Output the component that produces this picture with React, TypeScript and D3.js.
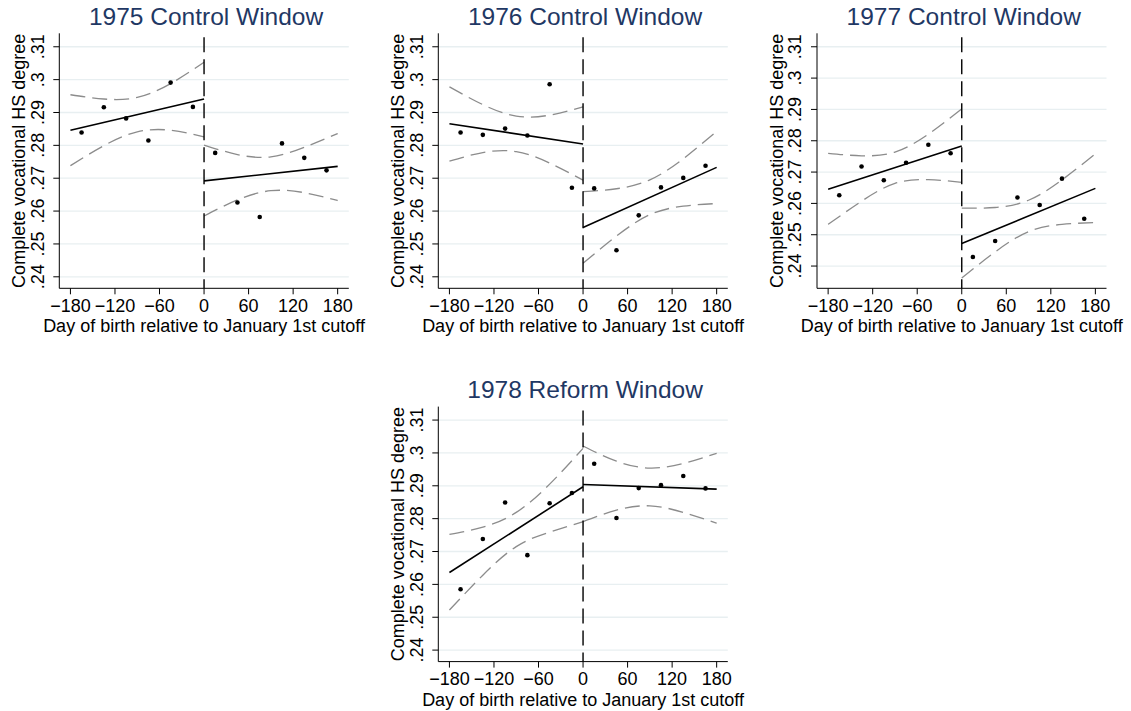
import React from 'react';
import * as d3 from 'd3';

const width = 1131,
      height = 711;

// bin centres (days) and x ticks
const binCenters = [-165, -135, -105, -75, -45, -15, 15, 45, 75, 105, 135, 165];
const xTicks = [-180, -120, -60, 0, 60, 120, 180];
const yTicks = [0.24, 0.25, 0.26, 0.27, 0.28, 0.29, 0.3, 0.31];
const yTickLabels = ['.24', '.25', '.26', '.27', '.28', '.29', '.3', '.31'];

const ciXLeft = [-180, -135, -90, -45, 0];
const ciXRight = [0, 45, 90, 135, 180];

const titles = ['1975 Control Window', '1976 Control Window', '1977 Control Window', '1978 Reform Window'];

// binned means
const dots1975 = [0.2839, 0.2916, 0.2882, 0.2815, 0.2991, 0.2917, 0.2777, 0.2626, 0.2582, 0.2806, 0.2762, 0.2724];
const dots1976 = [0.2839, 0.2832, 0.2851, 0.283, 0.2986, 0.2671, 0.2669, 0.2481, 0.2587, 0.2672, 0.2701, 0.2738];
const dots1977 = [0.2626, 0.2718, 0.2674, 0.273, 0.2787, 0.276, 0.2429, 0.248, 0.2619, 0.2595, 0.2679, 0.2551];
const dots1978 = [0.2585, 0.2738, 0.2849, 0.2689, 0.2847, 0.2878, 0.2967, 0.2802, 0.2893, 0.2902, 0.293, 0.2892];

// linear fit at the ends of each side [at -180, at 0] / [at 0, at 180]
const fitLeft = [[0.2846, 0.2941], [0.2866, 0.2804], [0.2645, 0.2783], [0.2636, 0.2897]];
const fitRight = [[0.2692, 0.2736], [0.255, 0.2733], [0.2472, 0.2648], [0.2904, 0.289]];

// 95% CI bands
const upperLeft = [
  [0.2954, 0.2941, 0.2946, 0.2988, 0.3053],
  [0.2978, 0.2924, 0.2889, 0.2892, 0.2917],
  [0.276, 0.2752, 0.2764, 0.2821, 0.2902],
  [0.2752, 0.2774, 0.2819, 0.2905, 0.3014],
];
const lowerLeft = [
  [0.2738, 0.2799, 0.2841, 0.2846, 0.2826],
  [0.2752, 0.2778, 0.2781, 0.2746, 0.2694],
  [0.2533, 0.2607, 0.2664, 0.2676, 0.2667],
  [0.2522, 0.2628, 0.2715, 0.2759, 0.2791],
];
const upperRight = [
  [0.2801, 0.2772, 0.2765, 0.2794, 0.2836],
  [0.2659, 0.2668, 0.2695, 0.2759, 0.2843],
  [0.2585, 0.2587, 0.261, 0.2675, 0.2758],
  [0.3021, 0.2975, 0.2954, 0.2968, 0.2999],
];
const lowerRight = [
  [0.2585, 0.2634, 0.2662, 0.2656, 0.2632],
  [0.2441, 0.2524, 0.2589, 0.2615, 0.2623],
  [0.2362, 0.2445, 0.251, 0.2533, 0.2539],
  [0.2791, 0.2826, 0.2839, 0.2819, 0.2786],
];

const yDomains = [[0.2365, 0.3141], [0.2365, 0.3141], [0.2329, 0.3143], [0.2365, 0.3141]];
const panelOrigins = [[0, 0], [379, 0], [757.7, 0], [379, 373.3]];
const allDots = [dots1975, dots1976, dots1977, dots1978];

const font = '"Liberation Sans", Arial, Helvetica, sans-serif';
const navy = '#1f3864';
const gridColor = '#e8eff1';
const ciColor = '#8c8c8c';

const plotLeft = 59.3,
      plotRight = 348.8,
      plotTop = 33.3,
      plotBottom = 288.3;

const minus = (v: number) => (v < 0 ? '\u2212' + Math.abs(v) : String(v));

const Panel = ({ i }: { i: number }) => {
  const [ox, oy] = panelOrigins[i];
  const x = d3.scaleLinear().domain([-195, 195]).range([plotLeft, plotRight]);
  const y = d3.scaleLinear().domain(yDomains[i]).range([plotBottom, plotTop]);

  const ciLine = d3.line<[number, number]>()
    .x(d => x(d[0]))
    .y(d => y(d[1]))
    .curve(d3.curveNatural);

  const bands = [
    ciXLeft.map((v, k) => [v, upperLeft[i][k]] as [number, number]),
    ciXLeft.map((v, k) => [v, lowerLeft[i][k]] as [number, number]),
    ciXRight.map((v, k) => [v, upperRight[i][k]] as [number, number]),
    ciXRight.map((v, k) => [v, lowerRight[i][k]] as [number, number]),
  ];

  const cx = (plotLeft + plotRight) / 2;
  const cy = (plotTop + plotBottom) / 2;

  return (
    <g transform={`translate(${ox},${oy})`}>
      <text x={cx + 2} y={25} textAnchor="middle" fontSize={24.5} fill={navy} fontFamily={font}>
        {titles[i]}
      </text>

      {yTicks.map((t, k) => (
        <g key={'gy' + k}>
          <line x1={plotLeft} x2={plotRight} y1={y(t)} y2={y(t)} stroke={gridColor} strokeWidth={1.3} />
          <line x1={plotLeft - 6} x2={plotLeft} y1={y(t)} y2={y(t)} stroke="#000" strokeWidth={1} />
          <text
            transform={`translate(${plotLeft - 15.8},${y(t)}) rotate(-90)`}
            textAnchor="middle"
            fontSize={18}
            fontFamily={font}
            fill="#000"
          >
            {yTickLabels[k]}
          </text>
        </g>
      ))}

      {bands.map((b, k) => (
        <path key={'ci' + k} d={ciLine(b) || ''} fill="none" stroke={ciColor} strokeWidth={1.3} strokeDasharray="15,7" />
      ))}

      <line x1={x(-180)} x2={x(0)} y1={y(fitLeft[i][0])} y2={y(fitLeft[i][1])} stroke="#000" strokeWidth={1.6} />
      <line x1={x(0)} x2={x(180)} y1={y(fitRight[i][0])} y2={y(fitRight[i][1])} stroke="#000" strokeWidth={1.6} />

      <line x1={x(0)} x2={x(0)} y1={plotTop + 4} y2={plotBottom} stroke="#000" strokeWidth={1.4} strokeDasharray="15,7" />

      {allDots[i].map((v, k) => (
        <circle key={'d' + k} cx={x(binCenters[k])} cy={y(v)} r={2.3} fill="#000" />
      ))}

      <line x1={plotLeft} x2={plotLeft} y1={plotTop} y2={plotBottom} stroke="#000" strokeWidth={1} />
      <line x1={plotLeft} x2={plotRight} y1={plotBottom} y2={plotBottom} stroke="#000" strokeWidth={1} />

      {xTicks.map(t => (
        <g key={'tx' + t}>
          <line x1={x(t)} x2={x(t)} y1={plotBottom} y2={plotBottom + 6} stroke="#000" strokeWidth={1} />
          <text x={x(t)} y={plotBottom + 23.4} textAnchor="middle" fontSize={18} fontFamily={font} fill="#000">
            {minus(t)}
          </text>
        </g>
      ))}

      <text x={cx} y={plotBottom + 44} textAnchor="middle" fontSize={18} fontFamily={font} fill="#000">
        Day of birth relative to January 1st cutoff
      </text>
      <text
        transform={`translate(${plotLeft - 34.3},${cy}) rotate(-90)`}
        textAnchor="middle"
        fontSize={18}
        fontFamily={font}
        fill="#000"
      >
        Complete vocational HS degree
      </text>
    </g>
  );
};

export default function App() {
  return (
    <svg
      width={width}
      height={height}
      viewBox={`0 0 ${width} ${height}`}
      style={{ position: 'absolute', left: 0, top: 0, background: '#fff' }}
    >
      <rect width={width} height={height} fill="#fff" />
      {titles.map((_, i) => (
        <Panel key={i} i={i} />
      ))}
    </svg>
  );
}
